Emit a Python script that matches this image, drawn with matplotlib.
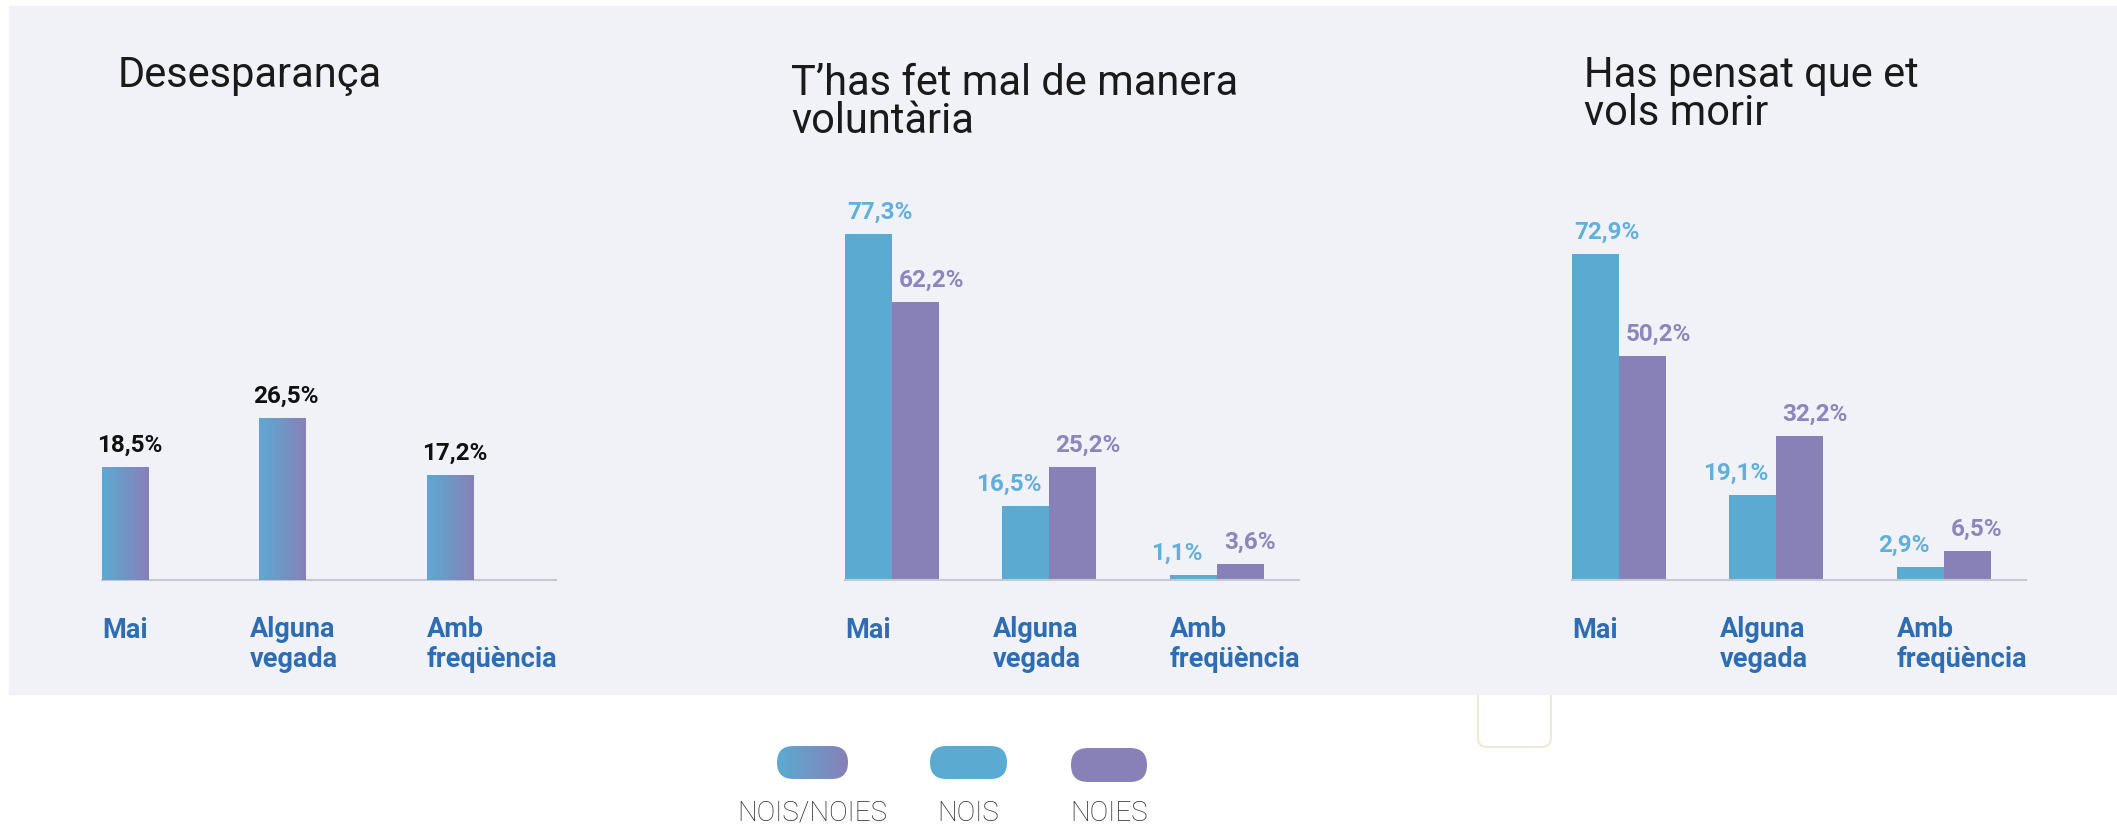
import numpy as np
import matplotlib
matplotlib.use('Agg')
import matplotlib.pyplot as plt
from matplotlib.patches import Rectangle, FancyBboxPatch

# Data
categories = ['Mai', 'Alguna\nvegada', 'Amb\nfreqüència']
titles = ['Desesparança', 'T’has fet mal de manera\nvoluntària', 'Has pensat que et\nvols morir']
desesperanca = [18.5, 26.5, 17.2]
autolesio_nois = [77.3, 16.5, 1.1]
autolesio_noies = [62.2, 25.2, 3.6]
morir_nois = [72.9, 19.1, 2.9]
morir_noies = [50.2, 32.2, 6.5]
legend_labels = ['NOIS/NOIES', 'NOIS', 'NOIES']

BLUE = '#5BAAD2'
PURPLE = '#8781B8'
CAT_COLOR = '#2F6DB3'
BG = '#F1F2F8'

plt.rcParams['font.family'] = ['Roboto', 'DejaVu Sans']

W, H = 2117, 825
fig = plt.figure(figsize=(W / 100, H / 100), dpi=100)
fig.patch.set_facecolor('white')

# background axes in pixel units (y down)
bg = fig.add_axes([0, 0, 1, 1])
bg.set_xlim(0, W)
bg.set_ylim(H, 0)
bg.axis('off')
bg.add_patch(FancyBboxPatch((1478, 660), 73, 87, boxstyle='round,pad=0,rounding_size=9',
                            fc='white', ec='#ECE9D6', lw=1.5, zorder=0))
bg.add_patch(Rectangle((9, 6), W - 9, 688, color=BG, zorder=1))

grad = np.linspace(0, 1, 64).reshape(1, -1)
cmap = matplotlib.colors.LinearSegmentedColormap.from_list('np', [BLUE, PURPLE])


def fmt(v):
    return f'{v:.1f}'.replace('.', ',') + '%'


def gradient_fill(ax, patch, extent):
    im = ax.imshow(grad, cmap=cmap, extent=extent, aspect='auto', zorder=3)
    im.set_clip_path(patch)


panel_left = [102, 845, 1572]
group_x = np.array([0, 156.5, 325])
label_dx = [0, -9, 0]
bar_w = 47
ax_w, base_y, ax_h = 454, 580, 380
ymax = [62, 85, 85]
# first-line baseline of each title (pixels from top)
title_pos = [(118, 87), (791, 95), (1584, 87)]
title_step = 38
cat_step = 29

for i in range(3):
    ax = fig.add_axes([panel_left[i] / W, (H - base_y) / H, ax_w / W, ax_h / H])
    ax.set_facecolor('none')
    if i == 0:
        bars = ax.bar(group_x, desesperanca, bar_w, align='edge', color='none', zorder=2)
        for b, v in zip(bars, desesperanca):
            x0 = b.get_x()
            gradient_fill(ax, b, [x0, x0 + bar_w, 0, v])
            ax.annotate(fmt(v), (x0 + bar_w / 2, v), xytext=(3, 11), textcoords='offset points',
                        ha='center', va='baseline', fontsize=17.5, fontweight='bold', color='#111111')
    else:
        nois = autolesio_nois if i == 1 else morir_nois
        noies = autolesio_noies if i == 1 else morir_noies
        b1 = ax.bar(group_x, nois, bar_w, align='edge', color=BLUE, zorder=2)
        b2 = ax.bar(group_x + bar_w, noies, bar_w, align='edge', color=PURPLE, zorder=2)
        for b, v, w in zip(b1, nois, noies):
            dx = 8 if v > w else -12
            ax.annotate(fmt(v), (b.get_x() + bar_w / 2, v), xytext=(dx, 11), textcoords='offset points',
                        ha='center', va='baseline', fontsize=17.5, fontweight='bold', color='#62B0DA')
        for b, v in zip(b2, noies):
            ax.annotate(fmt(v), (b.get_x(), v), xytext=(5, 11), textcoords='offset points',
                        ha='left', va='baseline', fontsize=17.5, fontweight='bold', color='#8C86BD')
    ax.set_xlim(0, ax_w)
    ax.set_ylim(0, ymax[i])
    for s in ['top', 'right', 'left']:
        ax.spines[s].set_visible(False)
    ax.spines['bottom'].set_color('#C8C8D2')
    ax.spines['bottom'].set_linewidth(1.5)
    ax.set_xticks([])
    ax.set_yticks([])
    for gx, dx, cat in zip(group_x, label_dx, categories):
        last_base = 638 + cat_step * cat.count('\n')
        ax.text(gx + dx, -(last_base - base_y) / ax_h, cat, transform=ax.get_xaxis_transform(),
                ha='left', va='baseline', fontsize=19.5, fontweight='bold', color=CAT_COLOR,
                linespacing=1.12)
    tx, ty = title_pos[i]
    ty = ty + title_step * titles[i].count('\n')
    bg.text(tx, ty, titles[i], ha='left', va='baseline', fontsize=30, fontweight='normal',
            color='#1A1A1A', linespacing=0.92, zorder=5)

# legend pills
pills = [(777, 746, 71, 33), (930, 746, 77, 33), (1071, 748, 76, 34)]
pill_colors = [None, BLUE, PURPLE]
for (px, py, pw, ph), c, lab in zip(pills, pill_colors, legend_labels):
    p = FancyBboxPatch((px, py), pw, ph, boxstyle=f'round,pad=0,rounding_size={ph / 2}',
                       fc=c if c else 'none', ec='none', zorder=3)
    bg.add_patch(p)
    if c is None:
        im = bg.imshow(grad, cmap=cmap, extent=[px, px + pw, py + ph, py], aspect='auto', zorder=3)
        im.set_clip_path(p)
    bg.text(px + pw / 2, 821, lab, ha='center', va='baseline', fontsize=20, fontweight='light',
            color='#262626', zorder=5)
bg.set_xlim(0, W)
bg.set_ylim(H, 0)

fig.savefig('out.png', dpi=100)
